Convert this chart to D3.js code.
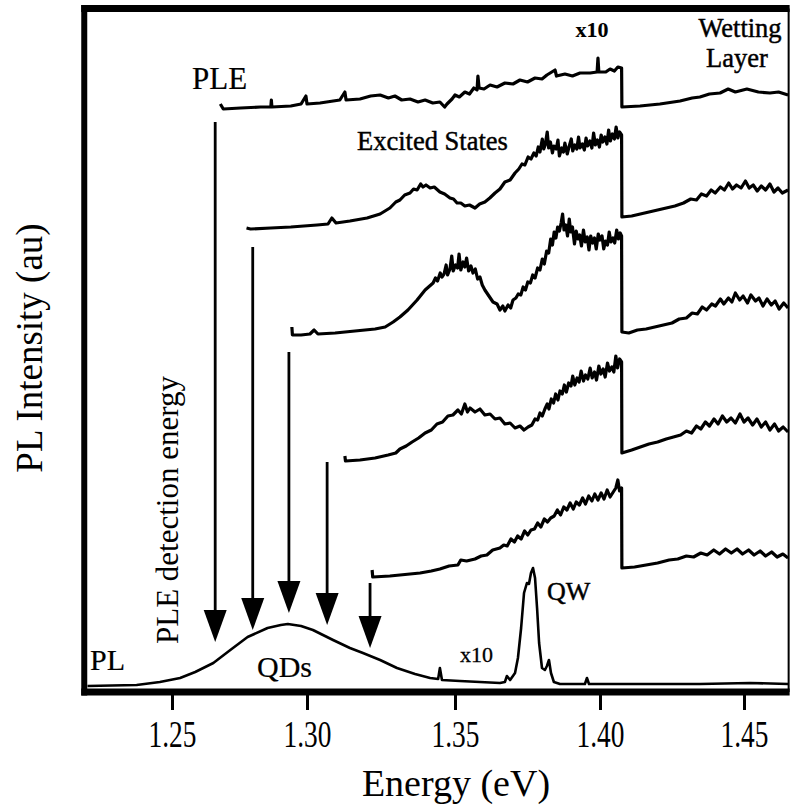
<!DOCTYPE html>
<html><head><meta charset="utf-8">
<script src="https://cdn.jsdelivr.net/npm/d3@7"></script>
<style>
body{margin:0;background:#fff}
svg{display:block}
text{font-family:"Liberation Serif","Times New Roman",serif;fill:#000}
</style>
</head><body>
<svg id="chart" width="792" height="809"></svg>
<script>
// ---------- data ----------
const tickValues = [1.25, 1.30, 1.35, 1.40, 1.45];
const tickLabels = ["1.25", "1.30", "1.35", "1.40", "1.45"];
const energyExtent = [1.2175, 1.4655];   // visible energy window (eV)
const intensityExtent = [0, 68];          // arbitrary units

// PLE spectra [energy eV, intensity au] (left of 1.4075 eV shown x10)
const ple1 = [[1.2679,58.4],[1.2690,57.9],[1.2754,58.0],[1.2828,58.1],[1.2866,58.1],[1.2868,58.8],[1.2870,58.1],
  [1.2940,58.2],[1.2978,58.4],[1.2996,59.2],[1.3000,58.4],[1.3044,58.5],[1.3111,58.8],[1.3128,59.6],[1.3132,58.8],
  [1.3179,58.9],[1.3215,59.2],[1.3247,59.3],[1.3275,59.0],[1.3297,59.2],[1.3320,58.8],[1.3348,58.9],[1.3375,58.6],
  [1.3399,58.8],[1.3425,58.5],[1.3449,58.6],[1.3465,58.1],[1.3473,58.4],[1.3490,58.9],[1.3500,59.3],[1.3515,59.1],
  [1.3534,59.6],[1.3550,59.4],[1.3565,60.0],[1.3576,59.8],[1.3579,61.2],[1.3583,60.0],[1.3600,59.9],[1.3621,60.3],
  [1.3645,60.1],[1.3672,60.5],[1.3700,60.4],[1.3724,60.8],[1.3750,60.6],[1.3776,61.0],[1.3800,60.9],[1.3817,61.3],
  [1.3845,61.8],[1.3850,61.2],[1.3879,61.4],[1.3905,61.2],[1.3931,61.5],[1.3966,61.5],[1.3990,61.6],[1.3993,63.0],
  [1.3996,61.6],[1.4020,61.6],[1.4035,61.9],[1.4050,61.7],[1.4062,62.1],[1.4075,62.0],[1.4076,58.1],[1.4139,58.2],
  [1.4208,58.4],[1.4278,58.7],[1.4320,59.0],[1.4347,59.1],[1.4380,59.4],[1.4417,59.5],[1.4445,59.9],[1.4470,59.6],
  [1.4510,59.9],[1.4550,59.6],[1.4590,59.5],[1.4620,59.6],[1.4653,59.3]];

const ple2 = [[1.2776,46.0],[1.2791,45.9],[1.2866,46.0],[1.2940,46.1],[1.3034,46.3],[1.3071,46.4],[1.3084,47.0],
  [1.3098,46.5],[1.3145,46.7],[1.3203,47.0],[1.3247,47.4],[1.3280,48.0],[1.3300,48.6],[1.3314,48.8],[1.3330,49.3],
  [1.3348,49.5],[1.3360,49.9],[1.3372,49.8],[1.3384,50.4],[1.3392,50.1],[1.3402,50.3],[1.3416,50.0],[1.3430,50.1],
  [1.3449,49.6],[1.3465,49.4],[1.3483,49.0],[1.3495,48.9],[1.3507,48.5],[1.3520,48.5],[1.3534,48.2],[1.3550,48.3],
  [1.3569,48.0],[1.3585,48.4],[1.3603,48.6],[1.3620,49.0],[1.3638,49.5],[1.3655,49.9],[1.3672,50.6],[1.3690,50.8],
  [1.3707,51.5],[1.3720,51.9],[1.3731,52.4],[1.3741,52.3],[1.3752,53.1],[1.3762,52.9],[1.3772,53.5],
  [1.3780,53.2],[1.3787,54.1],[1.3793,53.6],[1.3801,54.9],[1.3806,53.9],[1.3811,54.3],[1.3818,55.6],[1.3823,54.0],
  [1.3829,54.6],[1.3836,53.5],[1.3841,54.2],[1.3849,53.9],[1.3855,54.8],[1.3860,53.2],[1.3868,54.0],[1.3874,53.6],
  [1.3879,54.5],[1.3887,53.4],[1.3893,54.1],[1.3901,54.9],[1.3906,53.7],[1.3913,54.3],[1.3920,53.9],[1.3926,55.1],
  [1.3931,54.0],[1.3939,54.4],[1.3946,53.8],[1.3952,55.0],[1.3957,54.2],[1.3965,54.7],[1.3972,54.0],[1.3978,55.5],
  [1.3984,54.3],[1.3991,54.8],[1.3998,54.1],[1.4004,55.3],[1.4010,54.6],[1.4017,55.1],[1.4024,54.4],[1.4030,55.8],
  [1.4036,54.7],[1.4043,55.4],[1.4050,54.9],[1.4056,56.1],[1.4062,55.0],[1.4068,55.6],[1.4075,55.3],
  [1.4076,47.1],[1.4110,47.2],[1.4140,47.4],[1.4170,47.6],[1.4200,47.8],[1.4230,48.0],[1.4260,48.2],[1.4290,48.5],
  [1.4315,48.9],[1.4335,48.8],[1.4352,49.4],[1.4370,49.2],[1.4386,49.8],[1.4400,49.5],[1.4418,50.1],[1.4432,49.8],
  [1.4447,50.5],[1.4460,49.9],[1.4474,50.3],[1.4490,50.0],[1.4505,50.7],[1.4518,50.0],[1.4532,50.3],[1.4546,49.7],
  [1.4560,50.2],[1.4575,49.8],[1.4590,50.4],[1.4604,49.6],[1.4618,50.0],[1.4633,49.5],[1.4653,49.8]];

const ple3 = [[1.2944,36.1],[1.2946,35.3],[1.2978,35.3],[1.3010,35.4],[1.3024,35.8],[1.3037,35.4],[1.3095,35.5],
  [1.3162,35.7],[1.3230,35.9],[1.3264,36.1],[1.3291,36.6],[1.3314,37.1],[1.3341,37.8],[1.3372,38.8],[1.3399,39.8],
  [1.3426,40.5],[1.3434,41.0],[1.3441,40.7],[1.3450,41.5],[1.3456,41.1],[1.3463,41.4],[1.3470,42.3],[1.3475,41.3],
  [1.3483,41.9],[1.3489,43.2],[1.3494,41.7],[1.3502,42.3],[1.3509,42.0],[1.3514,43.4],[1.3520,41.8],[1.3528,42.6],
  [1.3534,42.1],[1.3540,43.0],[1.3547,41.7],[1.3555,42.2],[1.3562,41.5],[1.3570,41.9],[1.3578,40.9],[1.3586,41.1],
  [1.3594,40.3],[1.3603,39.8],[1.3617,39.2],[1.3631,38.6],[1.3645,38.4],[1.3655,37.8],[1.3665,38.2],[1.3672,37.7],
  [1.3683,38.3],[1.3692,38.0],[1.3700,38.8],[1.3710,39.0],[1.3718,39.4],[1.3727,39.3],[1.3735,40.1],[1.3743,39.8],
  [1.3751,40.6],[1.3760,40.5],[1.3768,41.3],[1.3776,41.0],[1.3785,42.0],[1.3793,41.8],[1.3801,42.9],[1.3808,42.4],
  [1.3816,43.7],[1.3823,43.5],[1.3830,44.9],[1.3836,44.3],[1.3842,45.6],[1.3848,45.0],[1.3854,46.1],[1.3860,45.7],
  [1.3866,46.5],[1.3871,47.4],[1.3876,45.8],[1.3882,46.3],[1.3888,45.2],[1.3894,46.9],[1.3899,45.6],[1.3905,46.1],
  [1.3912,44.4],[1.3918,45.7],[1.3924,44.9],[1.3930,45.3],[1.3936,44.2],[1.3943,45.8],[1.3949,44.6],[1.3956,45.1],
  [1.3962,43.8],[1.3968,45.2],[1.3975,44.5],[1.3981,45.0],[1.3987,43.9],[1.3994,45.4],[1.4000,44.8],[1.4007,45.2],
  [1.4013,43.9],[1.4019,44.7],[1.4026,44.3],[1.4032,45.6],[1.4038,44.6],[1.4045,45.0],[1.4051,44.5],[1.4058,45.8],
  [1.4064,44.9],[1.4070,45.5],[1.4075,45.2],
  [1.4076,35.6],[1.4100,35.5],[1.4130,35.8],[1.4160,35.9],[1.4190,36.1],[1.4220,36.3],[1.4250,36.5],[1.4275,36.9],
  [1.4300,37.0],[1.4320,37.5],[1.4338,37.4],[1.4355,38.1],[1.4370,37.8],[1.4388,38.4],[1.4401,38.2],[1.4418,38.9],
  [1.4430,38.4],[1.4446,39.0],[1.4458,38.6],[1.4470,39.5],[1.4485,38.8],[1.4497,39.2],[1.4512,38.5],[1.4524,39.3],
  [1.4540,38.7],[1.4552,39.0],[1.4566,38.2],[1.4580,38.9],[1.4595,38.3],[1.4608,38.7],[1.4622,37.9],[1.4638,38.5],
  [1.4653,38.0]];

const ple4 = [[1.3128,23.2],[1.3130,22.7],[1.3179,22.8],[1.3230,23.0],[1.3274,23.3],[1.3300,23.5],[1.3314,23.9],
  [1.3335,24.2],[1.3355,24.6],[1.3377,25.0],[1.3399,25.5],[1.3420,25.8],[1.3439,26.4],[1.3458,26.6],[1.3476,27.2],
  [1.3493,27.3],[1.3510,27.8],[1.3522,27.4],[1.3534,28.4],[1.3543,27.6],[1.3552,28.0],[1.3569,27.6],[1.3586,27.9],
  [1.3603,27.3],[1.3621,27.4],[1.3638,26.9],[1.3655,27.0],[1.3672,26.4],[1.3690,26.5],[1.3707,26.0],[1.3724,26.2],
  [1.3738,25.8],[1.3752,26.1],[1.3765,26.3],
  [1.3776,26.9],[1.3785,26.8],[1.3793,27.5],[1.3801,27.2],[1.3810,27.9],[1.3818,28.4],[1.3824,27.9],[1.3832,28.9],
  [1.3840,28.5],[1.3847,29.4],[1.3855,28.8],[1.3862,29.7],[1.3870,29.4],[1.3877,30.3],[1.3884,29.6],[1.3892,30.5],
  [1.3900,30.2],[1.3906,31.2],[1.3913,30.3],[1.3921,31.0],[1.3928,30.6],[1.3935,31.7],[1.3943,30.7],[1.3950,31.3],
  [1.3958,30.9],[1.3966,32.0],[1.3973,31.0],[1.3981,31.6],[1.3988,30.8],[1.3996,32.2],[1.4003,31.4],[1.4011,31.9],
  [1.4018,31.1],[1.4026,32.5],[1.4033,31.7],[1.4041,32.1],[1.4048,31.6],[1.4055,33.2],[1.4061,32.0],[1.4068,32.9],
  [1.4075,32.6],
  [1.4076,23.5],[1.4110,23.8],[1.4140,24.1],[1.4170,24.4],[1.4200,24.6],[1.4230,24.9],[1.4255,25.1],[1.4280,25.3],
  [1.4300,25.7],[1.4318,25.5],[1.4335,26.2],[1.4350,25.9],[1.4366,26.6],[1.4380,26.2],[1.4396,26.9],[1.4410,26.4],
  [1.4425,27.2],[1.4440,26.6],[1.4455,27.0],[1.4470,26.5],[1.4486,27.4],[1.4500,26.6],[1.4514,27.0],[1.4530,26.3],
  [1.4545,26.9],[1.4560,26.1],[1.4575,26.6],[1.4590,25.8],[1.4606,26.4],[1.4620,25.7],[1.4636,26.1],[1.4653,25.6]];

const ple5 = [[1.3220,11.8],[1.3222,11.1],[1.3280,11.2],[1.3348,11.4],[1.3382,11.5],[1.3420,11.7],[1.3449,11.9],
  [1.3480,12.2],[1.3510,12.3],[1.3520,12.8],[1.3540,12.7],[1.3569,12.9],[1.3590,13.2],[1.3610,13.3],[1.3630,13.8],
  [1.3655,14.0],[1.3668,14.3],[1.3680,14.2],[1.3693,14.9],[1.3705,14.6],[1.3716,15.2],[1.3728,14.9],[1.3740,15.7],
  [1.3751,15.3],[1.3762,15.8],[1.3774,15.9],[1.3785,16.5],[1.3796,16.1],[1.3808,16.9],[1.3819,16.6],[1.3830,17.0],
  [1.3842,17.2],[1.3853,17.8],[1.3864,17.3],[1.3875,18.1],[1.3886,17.8],[1.3897,18.5],[1.3908,17.9],[1.3918,18.6],
  [1.3929,18.3],[1.3940,19.0],[1.3950,18.4],[1.3961,19.2],[1.3972,18.7],[1.3982,19.4],[1.3993,18.8],[1.4004,19.5],
  [1.4014,18.9],[1.4025,19.8],[1.4035,19.1],[1.4046,19.6],[1.4055,20.0],[1.4062,20.8],[1.4068,19.7],[1.4075,20.0],
  [1.4076,12.0],[1.4120,12.1],[1.4160,12.3],[1.4200,12.5],[1.4240,12.8],[1.4270,12.9],[1.4300,13.2],[1.4325,13.1],
  [1.4350,13.5],[1.4372,13.3],[1.4395,13.8],[1.4415,13.4],[1.4436,13.9],[1.4456,13.5],[1.4476,13.9],[1.4495,13.4],
  [1.4516,13.8],[1.4535,13.3],[1.4556,13.7],[1.4575,13.2],[1.4596,13.6],[1.4615,13.1],[1.4635,13.4],[1.4653,13.0]];

// PL spectrum (QDs band + x10 QW region)
const plSpectrum = [[1.2187,0.2],[1.2369,0.3],[1.2455,0.6],[1.2530,1.0],[1.2586,1.6],[1.2653,2.5],[1.2716,3.8],
  [1.2780,5.1],[1.2854,6.0],[1.2903,6.3],[1.2929,6.4],[1.2978,6.2],[1.3020,5.8],[1.3088,4.8],[1.3145,4.0],
  [1.3189,3.5],[1.3247,2.8],[1.3304,2.0],[1.3365,1.4],[1.3416,1.0],[1.3443,0.9],[1.3449,2.0],[1.3456,0.8],
  [1.3517,0.7],[1.3586,0.6],[1.3655,0.5],[1.3672,0.6],[1.3679,1.2],[1.3690,0.8],[1.3707,1.5],[1.3717,3.0],
  [1.3728,6.0],[1.3738,9.5],[1.3748,10.5],[1.3755,10.4],[1.3762,11.5],[1.3769,12.0],[1.3776,11.0],[1.3783,8.0],
  [1.3790,4.5],[1.3800,2.0],[1.3810,1.8],[1.3817,2.2],[1.3824,2.8],[1.3831,1.5],[1.3841,0.6],[1.3862,0.4],
  [1.3948,0.4],[1.3955,1.0],[1.3962,0.4],[1.4069,0.4],[1.4347,0.4],[1.4521,0.5],[1.4653,0.4]];

// detection-energy arrows: energy, top of shaft (au), tip (au)
const arrowEnergy = [1.2660, 1.2799, 1.2933, 1.3068, 1.3213];
const arrowTop    = [56.6, 44.1, 33.6, 22.6, 10.5];
const arrowTip    = [4.6, 5.8, 7.5, 6.3, 4.0];

// ---------- chart ----------
const svg = d3.select("#chart");
const x = d3.scaleLinear().domain(tickValues).range([172, 307, 455, 600, 744]);
const y = d3.scaleLinear().domain(intensityExtent).range([688, 8]);

const line = d3.line().x(d => x(d[0])).y(d => y(d[1]));

const traces = [ple1, ple2, ple3, ple4, ple5];
svg.selectAll("path.ple").data(traces).join("path")
  .attr("class", "ple")
  .attr("d", line)
  .attr("fill", "none").attr("stroke", "#000")
  .attr("stroke-width", 3.2).attr("stroke-linejoin", "round");

svg.append("path").datum(plSpectrum)
  .attr("d", line)
  .attr("fill", "none").attr("stroke", "#000")
  .attr("stroke-width", 2.6).attr("stroke-linejoin", "round");

// arrows
const arrows = svg.selectAll("g.arrow").data(arrowEnergy.map((e, i) => ({e, top: arrowTop[i], tip: arrowTip[i]})))
  .join("g").attr("class", "arrow");
arrows.append("line")
  .attr("x1", d => x(d.e)).attr("x2", d => x(d.e))
  .attr("y1", d => y(d.top)).attr("y2", d => y(d.tip) - 25)
  .attr("stroke", "#000").attr("stroke-width", 2.8);
arrows.append("path")
  .attr("d", d => {
    const cx = x(d.e), ty = y(d.tip);
    return `M${cx},${ty} L${cx - 11.5},${ty - 32} L${cx + 11.5},${ty - 32} Z`;
  })
  .attr("fill", "#000");

// frame
const xl = x(energyExtent[0]), xr = x(energyExtent[1]);
const yb = 692, yt = 8.5;
svg.append("line").attr("x1", xl).attr("x2", xl).attr("y1", 5).attr("y2", yb + 3.5)
  .attr("stroke", "#000").attr("stroke-width", 6);
svg.append("line").attr("x1", xl - 3).attr("x2", xr + 1).attr("y1", yt).attr("y2", yt)
  .attr("stroke", "#000").attr("stroke-width", 7);
svg.append("line").attr("x1", xr).attr("x2", xr).attr("y1", yt).attr("y2", yb)
  .attr("stroke", "#000").attr("stroke-width", 2);

// bottom axis
const axis = d3.axisBottom(x).tickValues(tickValues)
  .tickFormat((d, i) => tickLabels[i]).tickSize(18).tickSizeOuter(0);
const gx = svg.append("g").attr("transform", `translate(0,${yb})`).call(axis);
gx.select(".domain").remove();
gx.append("line").attr("x1", xl - 3).attr("x2", xr + 1).attr("y1", 0).attr("y2", 0)
  .attr("stroke", "#000").attr("stroke-width", 7);
gx.selectAll(".tick line").attr("stroke", "#000").attr("stroke-width", 3);
gx.selectAll(".tick text")
  .attr("y", 55).attr("dy", null)
  .attr("transform", "scale(0.72,1)")
  .style("font-family", '"Liberation Serif","Times New Roman",serif')
  .style("font-size", "38px").attr("fill", "#000");
gx.attr("font-size", null).attr("font-family", null);

// axis titles
svg.append("text").attr("x", 456).attr("y", 796).attr("text-anchor", "middle")
  .style("font-size", "38px").text("Energy (eV)");
svg.append("text").attr("transform", "translate(42,348) rotate(-90)").attr("text-anchor", "middle")
  .style("font-size", "37px").text("PL Intensity (au)");
svg.append("text").attr("transform", "translate(178,510) rotate(-90)").attr("text-anchor", "middle")
  .style("font-size", "31px").text("PLE detection energy");

// annotations
const ann = (t, px, py, size, opts = {}) => {
  const el = svg.append("text").attr("x", px).attr("y", py).style("font-size", size + "px")
    .attr("stroke", "#000").attr("stroke-width", opts.sw || 0.45).text(t);
  if (opts.anchor) el.attr("text-anchor", opts.anchor);
  if (opts.bold) el.style("font-weight", "bold");
  return el;
};
ann("PLE", 192, 89, 31, {sw: 0.2});
ann("Excited States", 357, 150, 26.5);
ann("x10", 592, 37, 22, {anchor: "middle", bold: true, sw: 0.1});
ann("Wetting", 740, 37, 26.5, {anchor: "middle"});
ann("Layer", 737, 67, 26.5, {anchor: "middle"});
ann("PL", 90, 670, 30, {sw: 0.2});
ann("QDs", 257, 677, 30, {sw: 0.2});
ann("QW", 547, 600, 26);
ann("x10", 460, 662, 22, {sw: 0.3});
</script>
</body></html>
